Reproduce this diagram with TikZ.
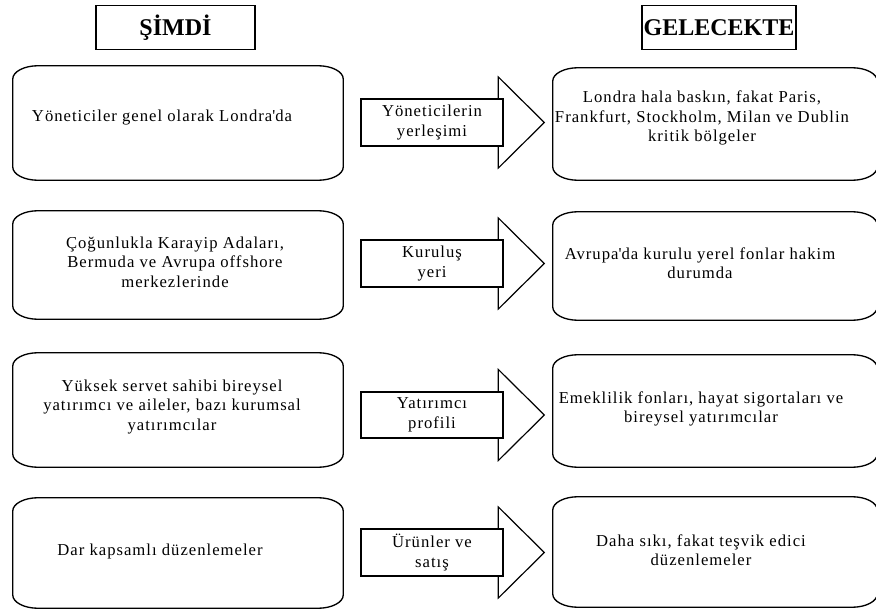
\documentclass[tikz,border=0pt]{standalone}
\usepackage{fontspec}
\setmainfont{Liberation Serif}
\usetikzlibrary{calc,positioning,backgrounds}
\tikzset{head/.style={draw,line width=1.1pt,minimum height=33pt,inner sep=0pt,font=\fontsize{18}{20}\selectfont\bfseries},
  txt/.style={align=center,inner sep=0pt,font=\fontsize{12.5}{14.5}\selectfont\addfontfeature{LetterSpace=6}},
  way/.style={draw,fill=white,line width=1.5pt,minimum width=107pt,minimum height=35pt,inner sep=0pt,align=center,font=\fontsize{12.5}{15}\selectfont\addfontfeature{LetterSpace=6}},
  tri/.style={draw,fill=white,line width=0.9pt,line join=miter},
  frame/.style={line width=1pt}}
\newcommand{\softframe}[1]{\draw[frame] ([xshift=19pt]#1.north west) -- ([xshift=-19pt]#1.north east)
  arc[start angle=90,end angle=0,x radius=19pt,y radius=10pt] -- ([yshift=10pt]#1.south east)
  arc[start angle=0,end angle=-90,x radius=19pt,y radius=10pt] -- ([xshift=19pt]#1.south west)
  arc[start angle=270,end angle=180,x radius=19pt,y radius=10pt] -- ([yshift=-10pt]#1.north west)
  arc[start angle=180,end angle=90,x radius=19pt,y radius=10pt] -- cycle;}

\begin{document}
\begin{tikzpicture}[x=0.75pt,y=-0.75pt]
          \useasboundingbox (0,0) rectangle (876,610);

          % titles
          \node (now) [head,minimum width=119pt] at (175.5,27.5) {ŞİMDİ};
          \node (later) [head,minimum width=115.5pt] at (719,27.5) {GELECEKTE};

          % left boxes
          \foreach \i/\cy/\h in {1/123/114, 2/265/108, 3/410/114, 4/553/110}
          {\node (now\i) [minimum width=247.5pt,minimum height=\h*0.75pt,inner sep=0pt] at (178,\cy) {};
            \softframe{now\i}}

          % right boxes
          \foreach \i/\cy/\h in {1/124/112, 2/266/108, 3/411/112, 4/552/110}
          {\node (later\i) [minimum width=243pt,minimum height=\h*0.75pt,inner sep=0pt] at (715,\cy) {};
            \softframe{later\i}}

          % texts
          \foreach \i/\x/\y/\t in {1/162/118/{Yöneticiler genel olarak Londra\textquotesingle da},
            2/175/262/{Çoğunlukla Karayip Adaları,\\ Bermuda ve Avrupa offshore\\ merkezlerinde},
            3/172/407/{Yüksek servet sahibi bireysel\\ yatırımcı ve aileler, bazı kurumsal\\ yatırımcılar},
            4/160/551/{Dar kapsamlı düzenlemeler}}
          {\node (nowt\i) [txt] at (\x,\y) {\t};}

          \foreach \i/\x/\y/\t in {1/702/118/{Londra hala baskın, fakat Paris,\\ Frankfurt, Stockholm, Milan ve Dublin\\ kritik bölgeler},
            2/700/263/{Avrupa\textquotesingle da kurulu yerel fonlar hakim\\ durumda},
            3/701/409/{Emeklilik fonları, hayat sigortaları ve\\ bireysel yatırımcılar},
            4/701/550/{Daha sıkı, fakat teşvik edici\\ düzenlemeler}}
          {\node (latert\i) [txt] at (\x,\y) {\t};}

          % block arrows
          \foreach \i/\cy/\t in {1/122.5/{Yöneticilerin\\ yerleşimi}, 2/263.5/{Kuruluş\\ yeri}, 3/415/{Yatırımcı\\ profili}, 4/552.5/{Ürünler ve\\ satış}}
          {\node (way\i) [way] at (432,\cy) {\t};
            \begin{scope}[on background layer]
              \draw[tri] ($(way\i.east)+(-6,-45.5)$) -- ($(way\i.east)+(40,0)$) -- ($(way\i.east)+(-6,45.5)$) -- cycle;
            \end{scope}}

        \end{tikzpicture}
\end{document}
